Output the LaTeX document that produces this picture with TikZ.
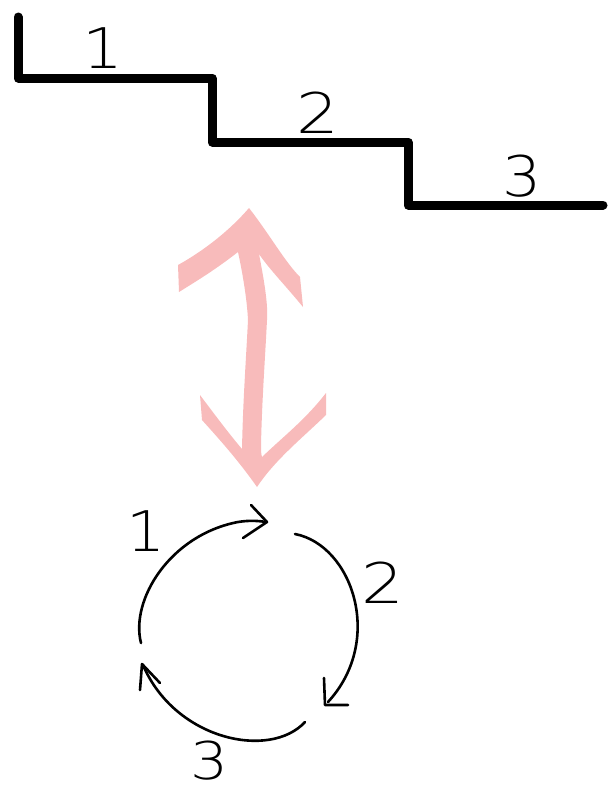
\documentclass[tikz,border=0pt]{standalone}
\usepackage{fontspec}
\newfontfamily\hand{DejaVu Sans ExtraLight}
\definecolor{blush}{HTML}{F8BBBB}
\begin{document}
\begin{tikzpicture}[x=1pt,y=-1pt,
  stairline/.style={line width=9, line cap=round, line join=round},
  loopline/.style={line width=2.6, line cap=round, line join=round},
  numlabel/.style={font=\hand\fontsize{56}{56}\selectfont, inner sep=0pt}]
\useasboundingbox (0,0) rectangle (610,793);

% staircase
\draw[stairline] (18,17) -- (18,78) -- (212,78) -- (212,142) -- (408,142) -- (408,205) -- (603,205);
\node[numlabel, xscale=1.15] (s1) at (103,48) {1};
\node[numlabel, xscale=1.2] (s2) at (318,113) {2};
\node[numlabel, xscale=1.1] (s3) at (522,176) {3};

% two-way arrow
\fill[blush] (249,208) .. controls (270,235) and (285,262) .. (300,277)
  -- (303,307) .. controls (285,285) and (270,270) .. (259,254)
  .. controls (265,285) and (268,305) .. (267,320)
  .. controls (265,360) and (262,400) .. (261,445)
  .. controls (261,450) and (261,454) .. (262,457)
  .. controls (285,435) and (305,420) .. (326,393)
  -- (326,415) .. controls (300,440) and (275,460) .. (257,487)
  .. controls (238,460) and (220,440) .. (202,420)
  -- (200,395) .. controls (215,415) and (230,435) .. (242,449)
  .. controls (243,400) and (246,360) .. (248,320)
  .. controls (247,300) and (243,275) .. (238,252)
  .. controls (215,270) and (195,282) .. (179,292)
  -- (178,265) .. controls (205,250) and (230,230) .. (249,208) -- cycle;

% cycle: arc 1 with its head
\draw[loopline] (141,643) .. controls (130,600) and (170,535) .. (238,522) .. controls (250,520) and (260,521) .. (266,522);
\draw[loopline] (251,505) -- (267,522) -- (243,538);
% arc 2 with its head
\draw[loopline] (295,534) .. controls (352,545) and (385,640) .. (328,702);
\draw[loopline] (324,678) -- (325,705) -- (348,705);
% arc 3 with its head
\draw[loopline] (305,722) .. controls (270,760) and (175,740) .. (143,665);
\draw[loopline] (140,690) -- (142,664) -- (160,683);

\node[numlabel, xscale=1.1] (c1) at (146,531) {1};
\node[numlabel, xscale=1.2] (c2) at (383,583) {2};
\node[numlabel, xscale=1.15, font=\hand\fontsize{52}{52}\selectfont] (c3) at (210,761) {3};
\end{tikzpicture}
\end{document}
